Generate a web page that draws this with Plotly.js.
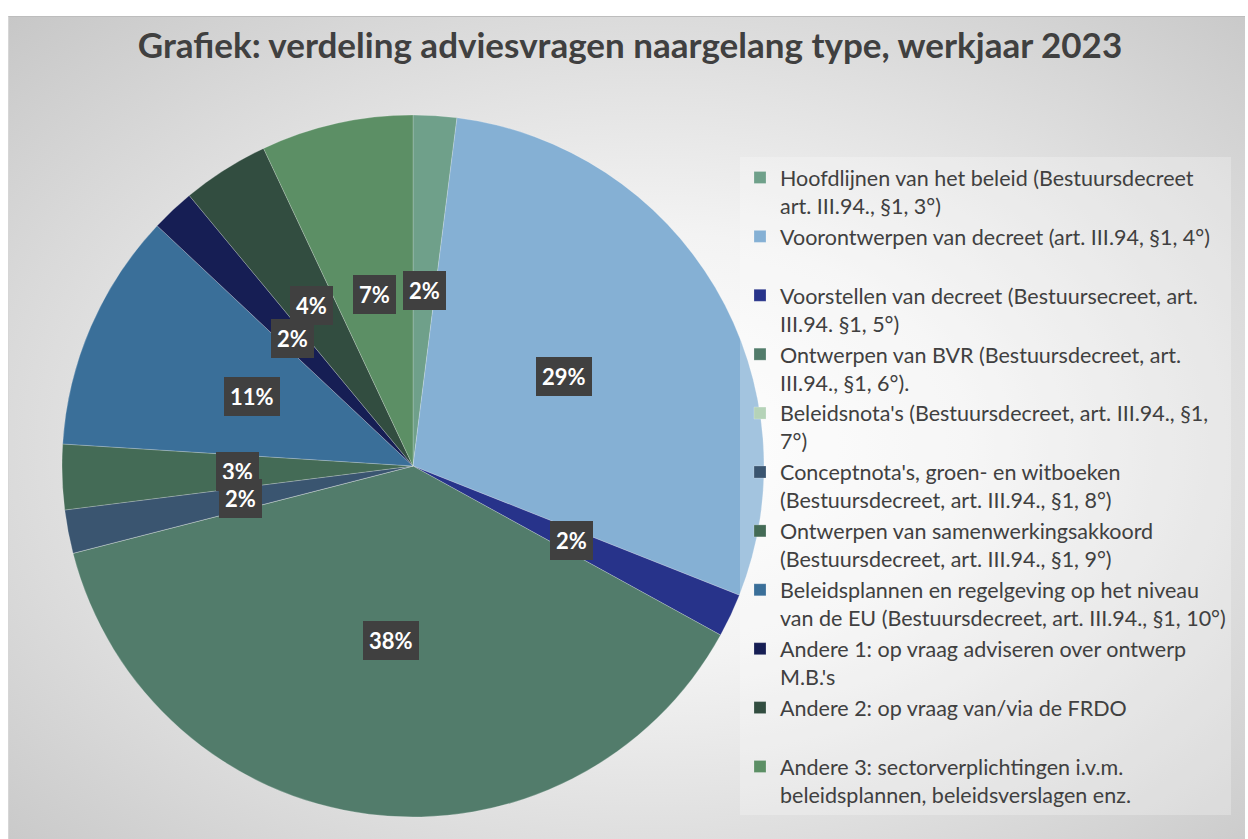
<!DOCTYPE html>
<html>
<head>
<meta charset="utf-8">
<script src="https://cdn.plot.ly/plotly-3.0.1.min.js"></script>
<style>
  html, body { margin: 0; padding: 0; background: #ffffff; width: 1248px; height: 839px; overflow: hidden; }
  #bg { position: absolute; left: 8px; top: 16px; width: 1236px; height: 823px;
        border-top: 1px solid #bdbdbd; border-left: 1px solid #d6d6d6;
        background: radial-gradient(ellipse farthest-corner at 52% 52%, #ffffff 0%, #f3f3f3 35%, #c7c7c7 100%); }
  #chart { position: absolute; left: 0; top: 0; width: 1248px; height: 839px; }
</style>
</head>
<body>
<div id="bg"></div>
<div id="chart"></div>
<script>
// ---- data ----
const categories = [
  "Hoofdlijnen van het beleid (Bestuursdecreet<br>art. III.94., §1, 3°)",
  "Voorontwerpen van decreet (art. III.94, §1, 4°)<br> ",
  "Voorstellen van decreet (Bestuursecreet, art.<br>III.94. §1, 5°)",
  "Ontwerpen van BVR (Bestuursdecreet, art.<br>III.94., §1, 6°).",
  "Beleidsnota's (Bestuursdecreet, art. III.94., §1,<br>7°)",
  "Conceptnota's, groen- en witboeken<br>(Bestuursdecreet, art. III.94., §1, 8°)",
  "Ontwerpen van samenwerkingsakkoord<br>(Bestuursdecreet, art. III.94., §1, 9°)",
  "Beleidsplannen en regelgeving op het niveau<br>van de EU (Bestuursdecreet, art. III.94., §1, 10°)",
  "Andere 1: op vraag adviseren over ontwerp<br>M.B.'s",
  "Andere 2: op vraag van/via de FRDO<br> ",
  "Andere 3: sectorverplichtingen i.v.m.<br>beleidsplannen, beleidsverslagen enz."
];
const shares = [2, 29, 2, 38, 0, 2, 3, 11, 2, 4, 7];
const sliceColors = ["#6fa08a", "#85b0d4", "#27338a", "#527c6b", "#b5d3b8", "#3a5570",
                     "#446b56", "#3a6f99", "#161e54", "#324d40", "#5c8f65"];
const chartTitle = "Grafiek: verdeling adviesvragen naargelang type, werkjaar 2023";

// ---- geometry ----
const W = 1248, H = 839;
const cx = 413, cyTop = 466, R = 351;
const dom = {
  x: [(cx - R) / W, (cx + R) / W],
  y: [(H - cyTop - R) / H, (H - cyTop + R) / H]
};

// data labels at half radius, at each slice's middle angle;
// a label that collides diagonally with an earlier one is pushed outward
const total = shares.reduce((a, b) => a + b, 0);
const boxW = 50, boxH = 42;
const placed = [];
const annotations = [];
let cum = 0;
shares.forEach((v, i) => {
  const mid = (cum + v / 2) / total;
  cum += v;
  if (v === 0) return;
  const th = mid * 2 * Math.PI;
  let r = 0.5 * R, px, py;
  for (let k = 0; k < 60; k++) {
    px = cx + r * Math.sin(th);
    py = cyTop - r * Math.cos(th);
    const hit = placed.some(p => {
      const dx = Math.abs(p[0] - px), dy = Math.abs(p[1] - py);
      const ox = boxW - dx, oy = boxH - dy;
      return ox > 10 && oy > 10 && dx > 8;
    });
    if (!hit) break;
    r += 2;
  }
  placed.push([px, py]);
  annotations.push({
    xref: "paper", yref: "paper", x: px / W, y: 1 - py / H,
    xanchor: "center", yanchor: "middle",
    text: "<b>" + Math.round(v / total * 100) + "%</b>",
    showarrow: false,
    font: { family: "Lato, sans-serif", size: 22, color: "#ffffff" },
    bgcolor: "#404040", borderpad: 6, borderwidth: 0
  });
});
annotations.reverse();

const trace = {
  type: "pie",
  labels: categories,
  values: shares,
  sort: false,
  direction: "clockwise",
  rotation: 0,
  textinfo: "none",
  hoverinfo: "label+percent",
  marker: { colors: sliceColors, line: { color: "rgba(255,255,255,0.35)", width: 0.6 } },
  domain: dom
};

const layout = {
  width: W, height: H,
  margin: { l: 0, r: 0, t: 0, b: 0 },
  paper_bgcolor: "rgba(0,0,0,0)",
  plot_bgcolor: "rgba(0,0,0,0)",
  font: { family: "Lato, sans-serif", color: "#404040" },
  title: {
    text: "<b>" + chartTitle + "</b>",
    font: { family: "Lato, sans-serif", size: 35, color: "#404040" },
    x: 630 / W, xanchor: "center", y: 1 - 46 / H, yanchor: "middle",
    xref: "paper", yref: "paper"
  },
  showlegend: true,
  legend: {
    x: 740 / W, xanchor: "left", y: 1 - 157 / H, yanchor: "top",
    bgcolor: "rgba(255,255,255,0.25)", borderwidth: 0,
    font: { family: "Lato, sans-serif", size: 21.5, color: "#404040" },
    valign: "top", itemwidth: 30, traceorder: "normal"
  },
  annotations: annotations
};

Plotly.newPlot("chart", [trace], layout, { displayModeBar: false, staticPlot: true });
</script>
</body>
</html>
